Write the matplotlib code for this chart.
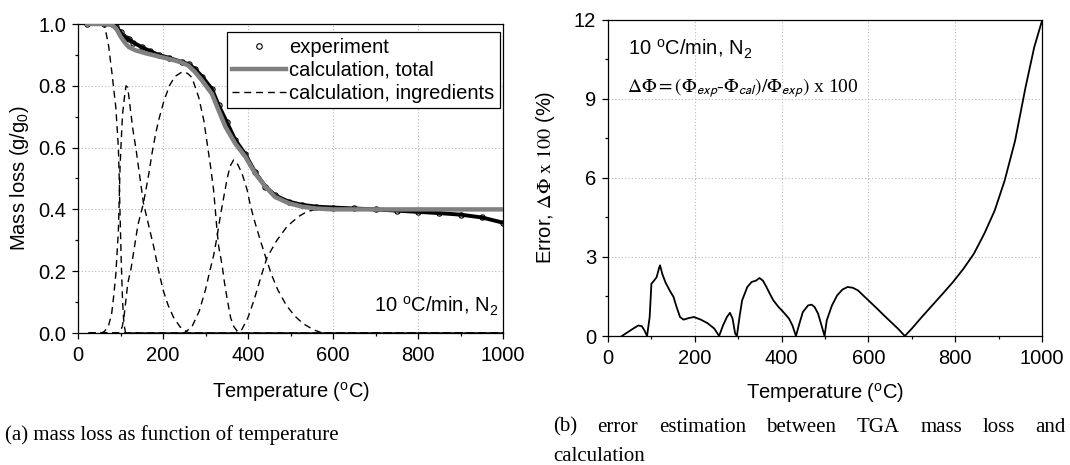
import matplotlib
matplotlib.use('Agg')
import matplotlib.pyplot as plt
from matplotlib.lines import Line2D

# Mass loss, experiment (g/g0).
temp_exp = [22, 60, 80, 90, 100, 106, 112, 120, 130, 150, 170, 190, 215, 245, 260, 275, 292, 315, 331, 350,
            370, 394, 417, 441, 464, 496, 527, 560, 600, 650, 700, 750, 800, 850, 900, 950, 1000]
mass_exp = [1.0, 1.0, 0.999, 0.99, 0.975, 0.96, 0.955, 0.95, 0.94, 0.925, 0.912, 0.90, 0.89, 0.877, 0.87, 0.855, 0.83, 0.79, 0.737, 0.683,
            0.625, 0.578, 0.52, 0.474, 0.445, 0.425, 0.415, 0.409, 0.406, 0.403, 0.40, 0.396, 0.392, 0.388, 0.383, 0.374, 0.357]

# Mass loss, calculation total.
temp_calc = [22, 60, 80, 90, 100, 110, 120, 135, 160, 190, 220, 245, 260, 275, 292, 315, 331, 347, 370, 394,
             417, 441, 464, 496, 527, 560, 600, 1000]
mass_calc = [1.0, 1.0, 0.997, 0.985, 0.96, 0.94, 0.925, 0.915, 0.905, 0.895, 0.885, 0.875, 0.865, 0.845, 0.817, 0.774, 0.72, 0.667, 0.613, 0.57,
             0.516, 0.473, 0.44, 0.42, 0.409, 0.403, 0.40, 0.40]

# Calculation, ingredients.
temp_a = [25, 60, 64, 72, 80, 89, 95, 97, 99, 102, 105, 108, 112, 1000]
comp_a = [1.0, 1.0, 0.985, 0.93, 0.84, 0.73, 0.60, 0.50, 0.38, 0.22, 0.10, 0.03, 0.0, 0.0]

temp_b = [25, 55, 62, 71, 79, 84, 89, 92, 95, 97, 99, 101, 103, 105, 109, 113, 117, 121, 129, 137,
          145, 154, 166, 178, 190, 200, 212, 225, 240, 260, 1000]
comp_b = [0.0, 0.0, 0.005, 0.02, 0.06, 0.12, 0.19, 0.26, 0.33, 0.43, 0.54, 0.60, 0.66, 0.71, 0.76, 0.80, 0.795, 0.75, 0.66, 0.59,
          0.51, 0.42, 0.35, 0.28, 0.20, 0.14, 0.09, 0.05, 0.02, 0.0, 0.0]

temp_c = [25, 97, 104, 108, 113, 117, 125, 133, 141, 154, 166, 174, 182, 190, 202, 215, 228, 245, 258, 268,
          284, 296, 304, 312, 319, 323, 327, 331, 339, 345, 351, 359, 367, 378, 1000]
comp_c = [0.0, 0.0, 0.02, 0.05, 0.11, 0.16, 0.21, 0.28, 0.35, 0.42, 0.51, 0.58, 0.64, 0.69, 0.75, 0.80, 0.83, 0.845, 0.84, 0.827,
          0.763, 0.688, 0.613, 0.538, 0.463, 0.40, 0.334, 0.28, 0.22, 0.16, 0.11, 0.05, 0.02, 0.0, 0.0]

temp_d = [25, 250, 268, 285, 300, 310, 319, 327, 335, 343, 351, 358, 366, 376, 386, 398, 406, 417, 429, 441,
          455, 470, 490, 510, 530, 555, 575, 1000]
comp_d = [0.0, 0.0, 0.02, 0.07, 0.14, 0.20, 0.25, 0.31, 0.38, 0.44, 0.50, 0.54, 0.56, 0.545, 0.516, 0.463, 0.41, 0.355, 0.30, 0.248,
          0.19, 0.14, 0.09, 0.055, 0.03, 0.01, 0.0, 0.0]

temp_e = [25, 370, 385, 400, 415, 430, 445, 468, 492, 519, 539, 560, 1000]
comp_e = [0.0, 0.0, 0.01, 0.05, 0.11, 0.18, 0.245, 0.30, 0.345, 0.377, 0.393, 0.40, 0.40]

ingredients = [(temp_a, comp_a), (temp_b, comp_b), (temp_c, comp_c), (temp_d, comp_d), (temp_e, comp_e)]

# Error between experiment and calculation (%).
temp_err = [32, 46, 58, 70, 78, 84, 90, 96, 100, 106, 112, 118, 120, 125, 132, 142, 151, 158, 166, 174,
            186, 198, 214, 229, 245, 256, 265, 274, 281, 287, 293, 297, 303, 309, 321, 331, 341, 349, 357, 365,
            373, 381, 393, 404, 417, 425, 433, 441, 449, 461, 469, 476, 484, 492, 499, 504, 516, 528, 540, 552,
            564, 576, 588, 604, 620, 636, 652, 668, 684, 700, 723, 747, 771, 795, 819, 843, 867, 891, 914, 938,
            962, 982, 1000]
err = [0.0, 0.15, 0.28, 0.40, 0.37, 0.21, 0.0, 0.72, 1.98, 2.10, 2.23, 2.60, 2.68, 2.36, 2.05, 1.73, 1.48, 1.10, 0.72, 0.62,
       0.68, 0.72, 0.62, 0.49, 0.28, 0.0, 0.40, 0.72, 0.88, 0.66, 0.09, 0.0, 0.72, 1.35, 1.86, 2.05, 2.10, 2.20, 2.10, 1.86,
       1.60, 1.35, 1.10, 0.91, 0.66, 0.40, 0.0, 0.47, 0.91, 1.16, 1.19, 1.10, 0.85, 0.40, 0.0, 0.59, 1.16, 1.54, 1.76, 1.86,
       1.83, 1.73, 1.54, 1.29, 1.04, 0.78, 0.53, 0.28, 0.0, 0.28, 0.72, 1.16, 1.60, 2.05, 2.55, 3.12, 3.88, 4.76, 5.90, 7.41,
       9.43, 10.95, 11.96]

caption_a = '(a) mass loss as function of temperature'
caption_b1 = ['(b)', 'error', 'estimation', 'between', 'TGA', 'mass', 'loss', 'and']
caption_b2 = 'calculation'

plt.rcParams['font.family'] = ['Liberation Sans', 'DejaVu Sans']
plt.rcParams['mathtext.fontset'] = 'custom'
plt.rcParams['mathtext.rm'] = 'Liberation Sans'
plt.rcParams['mathtext.it'] = 'Liberation Sans:italic'
plt.rcParams['mathtext.bf'] = 'Liberation Sans:bold'

FS = 14.5
W, H = 1070, 465
fig = plt.figure(figsize=(W / 100, H / 100), dpi=100)

def px_axes(x0, y0, x1, y1):
  # Axes from pixel corners (top-left origin).
  return fig.add_axes([x0 / W, 1 - y1 / H, (x1 - x0) / W, (y1 - y0) / H])

def style(ax):
  ax.tick_params(which='both', direction='out', top=False, right=False, labelsize=FS, color='black')
  ax.tick_params(which='major', length=4.5, width=0.9, pad=4)
  ax.tick_params(which='minor', length=2.5, width=0.9)
  ax.tick_params(axis='x', pad=5)
  ax.grid(True, which='major', linestyle=(0, (1, 2)), color='#b8b8b8', linewidth=0.8)
  for sp in ax.spines.values():
    sp.set_linewidth(0.9)
    sp.set_color('black')

# (a) mass loss.
ax1 = px_axes(78, 24, 503, 333)
for t, c in ingredients:
  ax1.plot(t, c, color='black', lw=1.0, ls=(0, (5, 3.5)), zorder=2)
ax1.plot(temp_exp, mass_exp, color='black', lw=2.8, marker='o', ms=3.8, mfc='none', mec='black', mew=0.8, zorder=3)
ax1.plot(temp_calc, mass_calc, color='#808080', lw=3.2, zorder=4)
ax1.set_xlim(0, 1000)
ax1.set_ylim(0, 1.0)
ax1.set_xticks(range(0, 1001, 200))
ax1.set_xticks(range(100, 1000, 200), minor=True)
ax1.set_yticks([0.0, 0.2, 0.4, 0.6, 0.8, 1.0])
ax1.set_yticks([0.1, 0.3, 0.5, 0.7, 0.9], minor=True)
ax1.set_yticklabels(['0.0', '0.2', '0.4', '0.6', '0.8', '1.0'])
style(ax1)
ax1.set_xlabel('Temperature ($^{\\rm o}$C)', fontsize=FS, va='top')
ax1.set_ylabel('Mass loss (g/g$_0$)', fontsize=FS)
ax1.xaxis.set_label_coords(0.5, -0.152)
ax1.yaxis.set_label_coords(-0.11, 0.5)
ax1.text(988, 0.068, '10 $^{\\rm o}$C/min, N$_2$', fontsize=FS, ha='right', va='baseline')

handles = [
  Line2D([], [], ls='none', marker='o', ms=4, mfc='none', mec='black', mew=0.8),
  Line2D([], [], color='#808080', lw=3.2),
  Line2D([], [], color='black', lw=1.0, ls=(0, (5, 3.5))),
]
leg = ax1.legend(handles, ['experiment', 'calculation, total', 'calculation, ingredients'],
                 loc='upper right', bbox_to_anchor=(0.992, 0.974), borderaxespad=0, fontsize=FS,
                 fancybox=False, framealpha=1, edgecolor='black', borderpad=0.28,
                 handlelength=2.65, handletextpad=0.15, labelspacing=0.2)
leg.get_frame().set_linewidth(0.9)

# (b) error.
ax2 = px_axes(608, 19.7, 1042, 336)
ax2.plot(temp_err, err, color='black', lw=1.3)
ax2.set_xlim(0, 1000)
ax2.set_ylim(0, 12)
ax2.set_xticks(range(0, 1001, 200))
ax2.set_xticks(range(100, 1000, 200), minor=True)
ax2.set_yticks([0, 3, 6, 9, 12])
ax2.set_yticks([1.5, 4.5, 7.5, 10.5], minor=True)
style(ax2)
ax2.set_xlabel('Temperature ($^{\\rm o}$C)', fontsize=FS, va='top')
ax2.set_ylabel('Error, $\\Delta\\Phi\\ \\mathrm{x\\ 100}$ (%)', fontsize=FS, math_fontfamily='stix')
ax2.xaxis.set_label_coords(0.5, -0.142)
ax2.yaxis.set_label_coords(-0.1175, 0.5)
ax2.text(45, 10.66, '10 $^{\\rm o}$C/min, N$_2$', fontsize=FS, ha='left', va='baseline')
ax2.text(44, 9.27, '$\\Delta\\Phi = (\\Phi_{\\mathsf{exp}}$-$\\Phi_{\\mathsf{cal}})/\\Phi_{\\mathsf{exp}})$ x 100',
         fontsize=14, ha='left', va='baseline', family='Liberation Serif', math_fontfamily='stix')

# Captions below the panels.
cap_kw = dict(family='Liberation Serif', fontsize=15, va='center')
fig.text(5 / W, 1 - 435 / H, caption_a, ha='left', **cap_kw)
fig.text(553 / W, 1 - 456 / H, caption_b2, ha='left', **cap_kw)

# Justify the first line of caption (b).
renderer = fig.canvas.get_renderer()
words = [fig.text(0, 1 - 427 / H, w, ha='left', **cap_kw) for w in caption_b1]
widths = [t.get_window_extent(renderer).width for t in words]
left, right = 553, 1066
gap = (right - left - sum(widths)) / (len(words) - 1)
x = left
for t, w in zip(words, widths):
  t.set_x(x / W)
  x += w + gap

fig.savefig('out.png', dpi=100)
